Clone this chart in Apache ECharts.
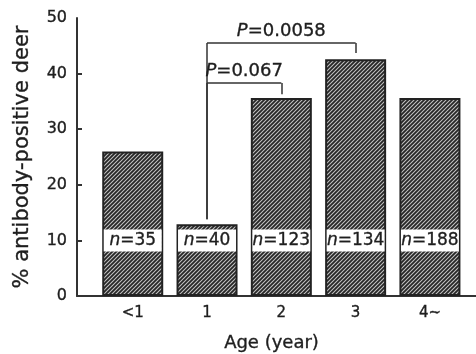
<!DOCTYPE html>
<html><head><meta charset="utf-8">
<script src="https://cdn.jsdelivr.net/npm/echarts@6/dist/echarts.min.js"></script>
<style>html,body{margin:0;padding:0;background:#fff}#c{width:476px;height:354px}</style>
</head><body><div id="c"></div>
<script>
// Data
var categories = ['<1', '1', '2', '3', '4~'];
var positivePct = [26.0, 12.9, 35.6, 42.6, 35.6];
var sampleSizes = [35, 40, 123, 134, 188];
var labelLevel = 10; // y value where n labels sit
var yTicks = [0, 10, 20, 30, 40, 50];
// brackets
var bracketFrom = [1, 1];
var bracketTo = [3, 2];
var bracketTop = [45.5, 38.3];
var bracketLeftBottom = [13.8, 13.8];
var bracketRightBottom = [43.7, 36.3];
var bracketText = ['0.0058', '0.067'];

var FONT = 'DejaVu Sans';
var TC = '#1e1e1e';
var TB = {textBorderColor: '#1e1e1e', textBorderWidth: 0.35};
// hatch pattern
var pc = document.createElement('canvas');
pc.width = 4; pc.height = 4;
var g = pc.getContext('2d');
g.fillStyle = '#c4c4c4'; g.fillRect(0, 0, 4, 4);
g.strokeStyle = '#262626'; g.lineWidth = 1.8;
g.beginPath();
g.moveTo(-1, 5); g.lineTo(5, -1);
g.moveTo(-3, 3); g.lineTo(3, -3);
g.moveTo(1, 7); g.lineTo(7, 1);
g.stroke();

function st(o) { return Object.assign({}, TB, o); }

var idx = categories.map(function (c, i) { return i; });
var barData = positivePct.map(function (v, i) { return [i, v]; });
var nData = sampleSizes.map(function (n, i) { return [i, labelLevel, n]; });

var mlData = [];
for (var k = 0; k < bracketFrom.length; k++) {
  var a = bracketFrom[k], b = bracketTo[k];
  mlData.push([{coord: [a, bracketLeftBottom[k]]}, {coord: [a, bracketTop[k]]}]);
  mlData.push([{coord: [a, bracketTop[k]], label: {show: true, formatter: '{p|P}{t|=' + bracketText[k] + '}'}},
               {coord: [b, bracketTop[k]]}]);
  mlData.push([{coord: [b, bracketTop[k]]}, {coord: [b, bracketRightBottom[k]]}]);
}

var chart = echarts.init(document.getElementById('c'), null, {renderer: 'canvas'});
chart.setOption({
  animation: false,
  grid: {left: 77, top: 18, right: 0, bottom: 58, outerBoundsMode: 'none', containLabel: false},
  xAxis: {
    type: 'value', min: -0.75, max: 4.62,
    splitLine: {show: false},
    axisLine: {show: true, onZero: false, lineStyle: {color: '#333', width: 2}},
    axisTick: {show: false},
    axisLabel: st({customValues: idx, formatter: function (v) { return categories[Math.round(v)]; },
      color: TC, fontSize: 15, fontFamily: FONT, margin: 10}),
    name: 'Age (year)', nameLocation: 'middle', nameGap: 38,
    nameTextStyle: st({fontSize: 18, color: TC, fontFamily: FONT, padding: [0, 10, 0, 0]})
  },
  yAxis: {
    type: 'value', min: 0, max: 50, interval: 10,
    splitLine: {show: false},
    axisLine: {show: true, onZero: false, lineStyle: {color: '#333', width: 2}},
    axisTick: {show: true, inside: true, length: 5, customValues: [10, 20, 30, 40], lineStyle: {color: '#333', width: 2}},
    axisLabel: st({customValues: yTicks, color: TC, fontSize: 16, fontFamily: FONT, margin: 10}),
    name: '% antibody-positive deer', nameLocation: 'middle', nameGap: 44,
    nameTextStyle: st({fontSize: 21, color: TC, fontFamily: FONT})
  },
  series: [{
    type: 'bar', data: barData, barWidth: 61,
    itemStyle: {color: {image: pc, repeat: 'repeat'}, borderColor: '#222', borderWidth: 2},
    markLine: {
      silent: true, symbol: 'none', animation: false,
      lineStyle: {color: '#333', width: 1.5, type: 'solid'},
      label: {show: false, position: 'insideMiddleTop', distance: 3, color: TC,
        rich: {p: st({fontStyle: 'italic', fontSize: 18, fontFamily: FONT, color: TC}),
               t: st({fontSize: 18, fontFamily: FONT, color: TC})}},
      data: mlData
    }
  }, {
    type: 'scatter', data: nData, symbolSize: 0, z: 5,
    itemStyle: {opacity: 1},
    label: {show: true, position: 'inside', width: 58, height: 22, lineHeight: 22, align: 'center',
      backgroundColor: '#ffffff', overflow: 'none', opacity: 1,
      formatter: function (p) { return '{i|n}{t|=' + p.data[2] + '}'; },
      rich: {i: st({fontStyle: 'italic', fontSize: 17, fontFamily: FONT, color: TC}),
             t: st({fontSize: 17, fontFamily: FONT, color: TC})}}
  }]
});
</script></body></html>
